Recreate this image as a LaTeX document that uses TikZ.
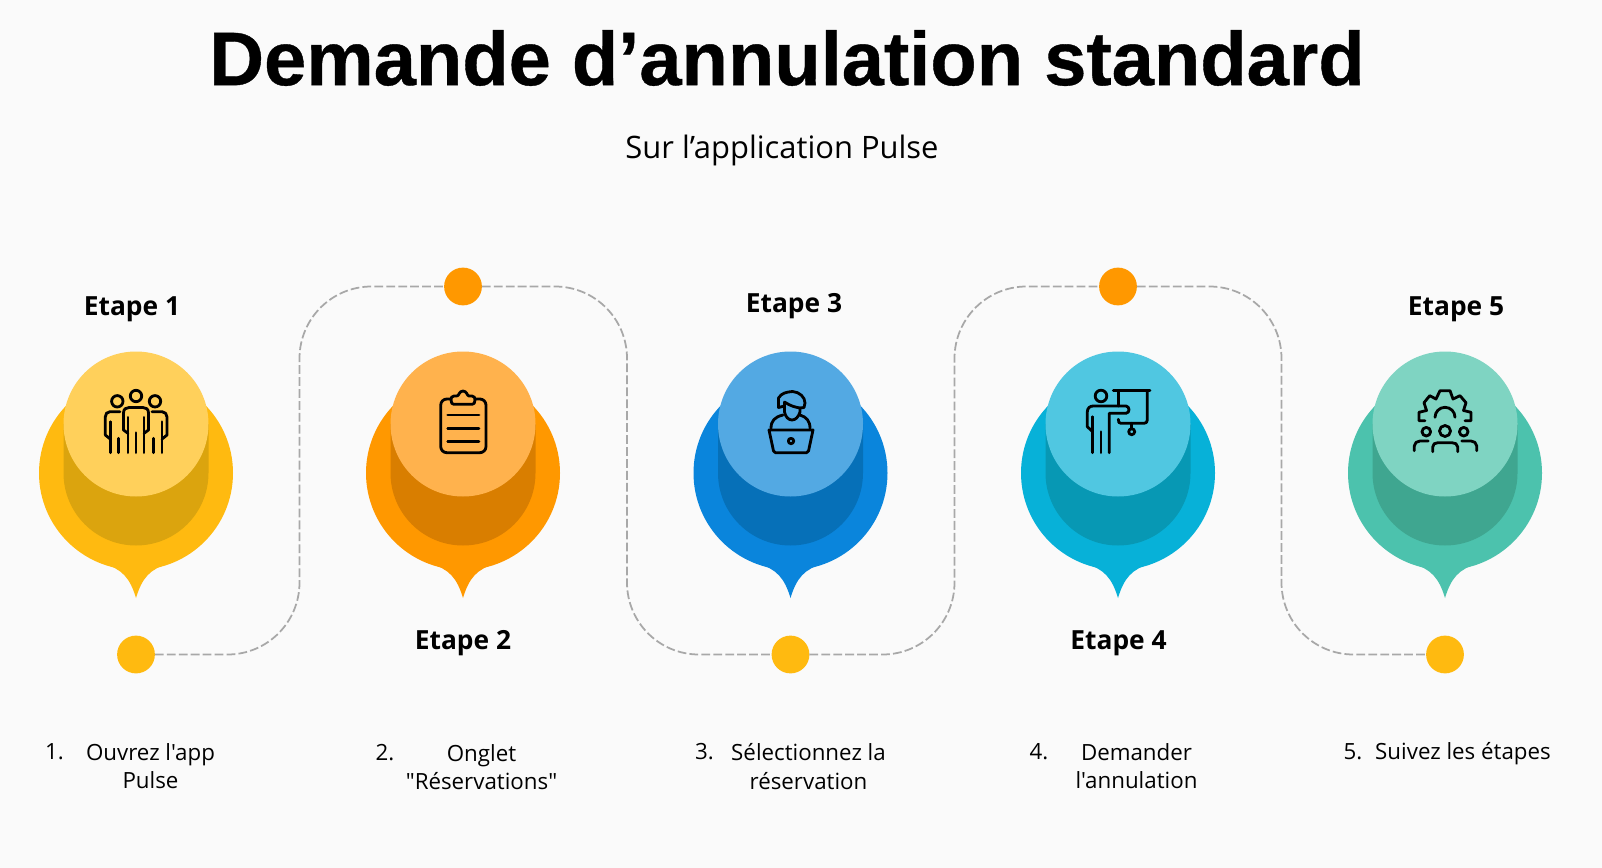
\documentclass[tikz,border=0pt]{standalone}
\usepackage{fontspec}
\setmainfont{Open Sans}[Ligatures=TeXOff]
\newfontfamily\titlefont{Liberation Sans}[BoldFeatures={FakeBold=0.5}]
\usetikzlibrary{positioning}
\definecolor{paper}{HTML}{FAFAFA}
\definecolor{yellowbig}{HTML}{FFBA10}
\definecolor{yellowtop}{HTML}{FFD05B}
\definecolor{yellowlow}{HTML}{DBA40E}
\definecolor{orangebig}{HTML}{FF9800}
\definecolor{orangetop}{HTML}{FFB24D}
\definecolor{orangelow}{HTML}{D97E00}
\definecolor{bluebig}{HTML}{0A85DC}
\definecolor{bluetop}{HTML}{53A9E3}
\definecolor{bluelow}{HTML}{0670B8}
\definecolor{cyanbig}{HTML}{07B1D8}
\definecolor{cyantop}{HTML}{50C7E1}
\definecolor{cyanlow}{HTML}{0798B4}
\definecolor{greenbig}{HTML}{4CC2AD}
\definecolor{greentop}{HTML}{7FD4C2}
\definecolor{greenlow}{HTML}{3FA690}
\definecolor{linkgray}{HTML}{A8A8A8}
\tikzset{font=\fontsize{14}{14}\selectfont}
\tikzstyle{dot} = [circle, minimum size=1.08cm*0.7, inner sep=0pt, outer sep=0pt]
\tikzstyle{link} = [draw=linkgray, line width=1pt, dash pattern=on 5pt off 1.8pt, rounded corners=1.44cm]
\tikzstyle{icon} = [draw=black, line width=1.6pt, line cap=round, line join=round]
\tikzstyle{steptitle} = [font=\fontsize{15}{15}\selectfont\bfseries, inner sep=0pt]
\tikzstyle{item} = [font=\fontsize{12.7}{16}\selectfont, inner sep=0pt, align=center]
\tikzstyle{itemnum} = [font=\fontsize{12.7}{16}\selectfont, inner sep=0pt]
% pin: x position, big colour, lower colour, top colour
\newcommand{\pin}[4]{
	\begin{scope}[shift={(#1,0)}]
		\fill [#2] (0,473) circle (97);
		\fill [#2] (-32,564) .. controls (-14,569) and (-6,578) .. (0,598) .. controls (6,578) and (14,569) .. (32,564) -- cycle;
		\fill [#3] (-72.5,424) -- (-72.5,473) arc (180:0:72.5) -- (72.5,424) -- cycle;
		\fill [#4] (0,424) circle (72.5);
	\end{scope}
}
\newcommand{\iconcrowd}[1]{
	\begin{scope}[shift={(#1,424)}]
		\draw [icon] (0,-28) circle (5.7) (-18.7,-22.7) circle (5.7) (19,-22.7) circle (5.7);
		\draw [icon] (-8,9.3) -- (-12.5,6) -- (-12.5,-11) .. controls (-12.5,-15) and (-10,-16.5) .. (-7,-16.5) -- (7,-16.5) .. controls (10,-16.5) and (12.5,-15) .. (12.5,-11) -- (12.5,6) -- (8,9.3);
		\draw [icon] (-8,-6.7) -- (-8,28.7) (0,8.7) -- (0,28.7) (8,-6.7) -- (8,28.7);
		\draw [icon] (-16,-12.3) -- (-26,-12.3) .. controls (-29,-12.3) and (-30.7,-10) .. (-30.7,-7) -- (-30.7,11) -- (-25.7,15);
		\draw [icon] (-25.7,-2.3) -- (-25.7,28.7) (-17.3,14.3) -- (-17.3,28.7);
		\draw [icon] (16,-12.3) -- (26,-12.3) .. controls (29,-12.3) and (31,-10) .. (31,-7) -- (31,11) -- (26,15);
		\draw [icon] (26,-2.3) -- (26,28.7) (17.7,14.3) -- (17.7,28.7);
	\end{scope}
}
\newcommand{\iconboard}[1]{
	\begin{scope}[shift={(#1,424)}]
		\draw [icon, rounded corners=3.5] (-12,-25) -- (-22.3,-25) -- (-22.3,28.7) -- (23,28.7) -- (23,-25) -- (12,-25);
		\draw [icon] (-6,-28) -- (-9,-28) .. controls (-11.5,-28) and (-12,-26) .. (-12,-24) .. controls (-12,-21) and (-11,-19.7) .. (-9,-19.7) -- (9,-19.7) .. controls (11,-19.7) and (12,-21) .. (12,-24) .. controls (12,-26) and (11.5,-28) .. (9,-28) -- (6,-28) .. controls (4,-28) and (4,-33) .. (0,-33) .. controls (-4,-33) and (-4,-28) .. (-6,-28);
		\draw [icon] (-15.3,-9) -- (16,-9) (-15.3,4.3) -- (16,4.3) (-15.3,17.7) -- (16,17.7);
	\end{scope}
}
\newcommand{\iconlaptop}[1]{
	\begin{scope}[shift={(#1,424)}]
		\draw [icon] (-21.5,6) -- (22.5,6) -- (18,27) .. controls (17.7,28.3) and (17,28.7) .. (16,28.7) -- (-15,28.7) .. controls (-16,28.7) and (-16.7,28.3) .. (-17,27) -- cycle;
		\draw [icon] (0.5,17) circle (2.7);
		\draw [icon] (-6,-18) -- (-12,-16.5) -- (-12,-26) .. controls (-9,-31) and (-4,-32) .. (2,-32.5) .. controls (9,-32) and (14.5,-27) .. (14.5,-21) .. controls (14.5,-19) and (14,-18) .. (13.5,-16.5) -- (9.5,-16);
		\draw [icon] (-6,-22) .. controls (0,-18) and (4,-17) .. (9.5,-16) -- (9.5,-12) .. controls (8,-7) and (5,-4) .. (1.5,-4) .. controls (-2,-4) and (-5,-7) .. (-6,-12) -- cycle;
		\draw [icon] (-19.5,4.3) .. controls (-19.5,-3) and (-16,-7) .. (-7.5,-9);
		\draw [icon] (19.5,4.3) .. controls (19.5,-3) and (16,-7) .. (9.5,-9);
	\end{scope}
}
\newcommand{\iconteacher}[1]{
	\begin{scope}[shift={(#1,424)}]
		\draw [icon] (-17,-28) circle (5.8);
		\draw [icon] (-4.7,-33.3) -- (32,-33.3);
		\draw [icon] (0.3,-33.3) -- (0.3,-18);
		\draw [icon] (29.3,-33.3) -- (29.3,-4) .. controls (29.3,-1.7) and (28,-0.7) .. (26,-0.7) -- (3,-0.7) .. controls (1,-0.7) and (0.3,-1.7) .. (0.3,-4.7);
		\draw [icon] (13.7,-0.7) -- (13.7,4.7);
		\draw [icon] (13.7,7.7) circle (3);
		\draw [icon] (-25.3,7.7) -- (-30.7,2.7) -- (-30.7,-12) .. controls (-30.7,-16) and (-28,-18) .. (-24.7,-18) -- (8,-18) .. controls (12,-17.5) and (12,-11) .. (8,-10.7) -- (-8.7,-10.7) -- (-8.7,28.7);
		\draw [icon] (-25.3,-7.3) -- (-25.3,28.7) (-17,7.7) -- (-17,28.7);
	\end{scope}
}
\newcommand{\icongear}[1]{
	\begin{scope}[shift={(#1,424)}]
		\draw [icon] (-20,-3.3) -- (-26,-3.3) -- (-26,-11.7) -- (-18.5,-13.5) -- (-21,-21.3) -- (-15.3,-28.3) -- (-9,-25) -- (-5,-33.3) -- (5,-33.3) -- (8,-25) -- (15,-28.3) -- (21,-21.3) -- (18.5,-13.5) -- (26,-11.7) -- (26,-3.3) -- (20,-3.3);
		\draw [icon] (-10,-6.7) arc (180:360:10);
		\draw [icon] (0,7) circle (5.5) (-18.7,7.7) circle (4.3) (18.7,7.7) circle (4.3);
		\draw [icon] (-12.3,27.7) -- (-12.3,23) .. controls (-12.3,20) and (-10,18.7) .. (-7,18.7) -- (7,18.7) .. controls (10,18.7) and (12.7,20) .. (12.7,23) -- (12.7,27.7);
		\draw [icon] (-30.7,26.7) -- (-30.7,22) .. controls (-30.7,19) and (-28,17) .. (-25,17) -- (-16.7,17);
		\draw [icon] (16.7,17) -- (26,17) .. controls (29,17) and (31.7,19) .. (31.7,22) -- (31.7,26.7);
	\end{scope}
}

\begin{document}
\begin{tikzpicture}[x=0.02cm, y=-0.02cm]
	\useasboundingbox [fill=paper] (0,0) rectangle (1602,868);

	\node [inner sep=0pt, font=\fontsize{43.2}{43.2}\selectfont\titlefont\bfseries] (title) at (787,58) {Demande d’annulation standard};
	\node [inner sep=0pt, font=\fontsize{17.6}{17.6}\selectfont] (subtitle) at (782,150) {Sur l’application Pulse};

	\node [dot, fill=yellowbig] (dot1) at (136,654.5) {};
	\node [dot, fill=orangebig] (dot2) at (463,286.5) {};
	\node [dot, fill=yellowbig] (dot3) at (790.5,654.5) {};
	\node [dot, fill=orangebig] (dot4) at (1118,286.5) {};
	\node [dot, fill=yellowbig] (dot5) at (1445,654.5) {};

	\coordinate (turn12) at (299.5,470);
	\coordinate (turn23) at (627,470);
	\coordinate (turn34) at (954.5,470);
	\coordinate (turn45) at (1281.5,470);

	\draw [link] (dot1) -| (turn12) |- (dot2);
	\draw [link] (dot2) -| (turn23) |- (dot3);
	\draw [link] (dot3) -| (turn34) |- (dot4);
	\draw [link] (dot4) -| (turn45) |- (dot5);

	\pin{136}{yellowbig}{yellowlow}{yellowtop}
	\pin{463}{orangebig}{orangelow}{orangetop}
	\pin{790.5}{bluebig}{bluelow}{bluetop}
	\pin{1118}{cyanbig}{cyanlow}{cyantop}
	\pin{1445}{greenbig}{greenlow}{greentop}

	\iconcrowd{136}
	\iconboard{463}
	\iconlaptop{790.5}
	\iconteacher{1118}
	\icongear{1445}

	\node [steptitle] (step1) at (132,309) {Etape 1};
	\node [steptitle] (step2) at (463,643.5) {Etape 2};
	\node [steptitle] (step3) at (794,306) {Etape 3};
	\node [steptitle] (step4) at (1118.5,643.5) {Etape 4};
	\node [steptitle] (step5) at (1456,309) {Etape 5};

	\node [item] (item1) at (150.5,766.5) {Ouvrez l'app\\Pulse};
	\node [item] (item2) at (481.5,767.5) {Onglet\\"Réservations"};
	\node [item] (item3) at (808.5,766.5) {Sélectionnez la\\réservation};
	\node [item] (item4) at (1136.5,766.5) {Demander\\l'annulation};
	\node [item] (item5) at (1463,754) {Suivez les étapes};

	\node [itemnum] (num1) at (54.5,752) {1.};
	\node [itemnum] (num2) at (385,753) {2.};
	\node [itemnum] (num3) at (704.5,752) {3.};
	\node [itemnum] (num4) at (1039,752) {4.};
	\node [itemnum] (num5) at (1353,752) {5.};
\end{tikzpicture}
\end{document}
